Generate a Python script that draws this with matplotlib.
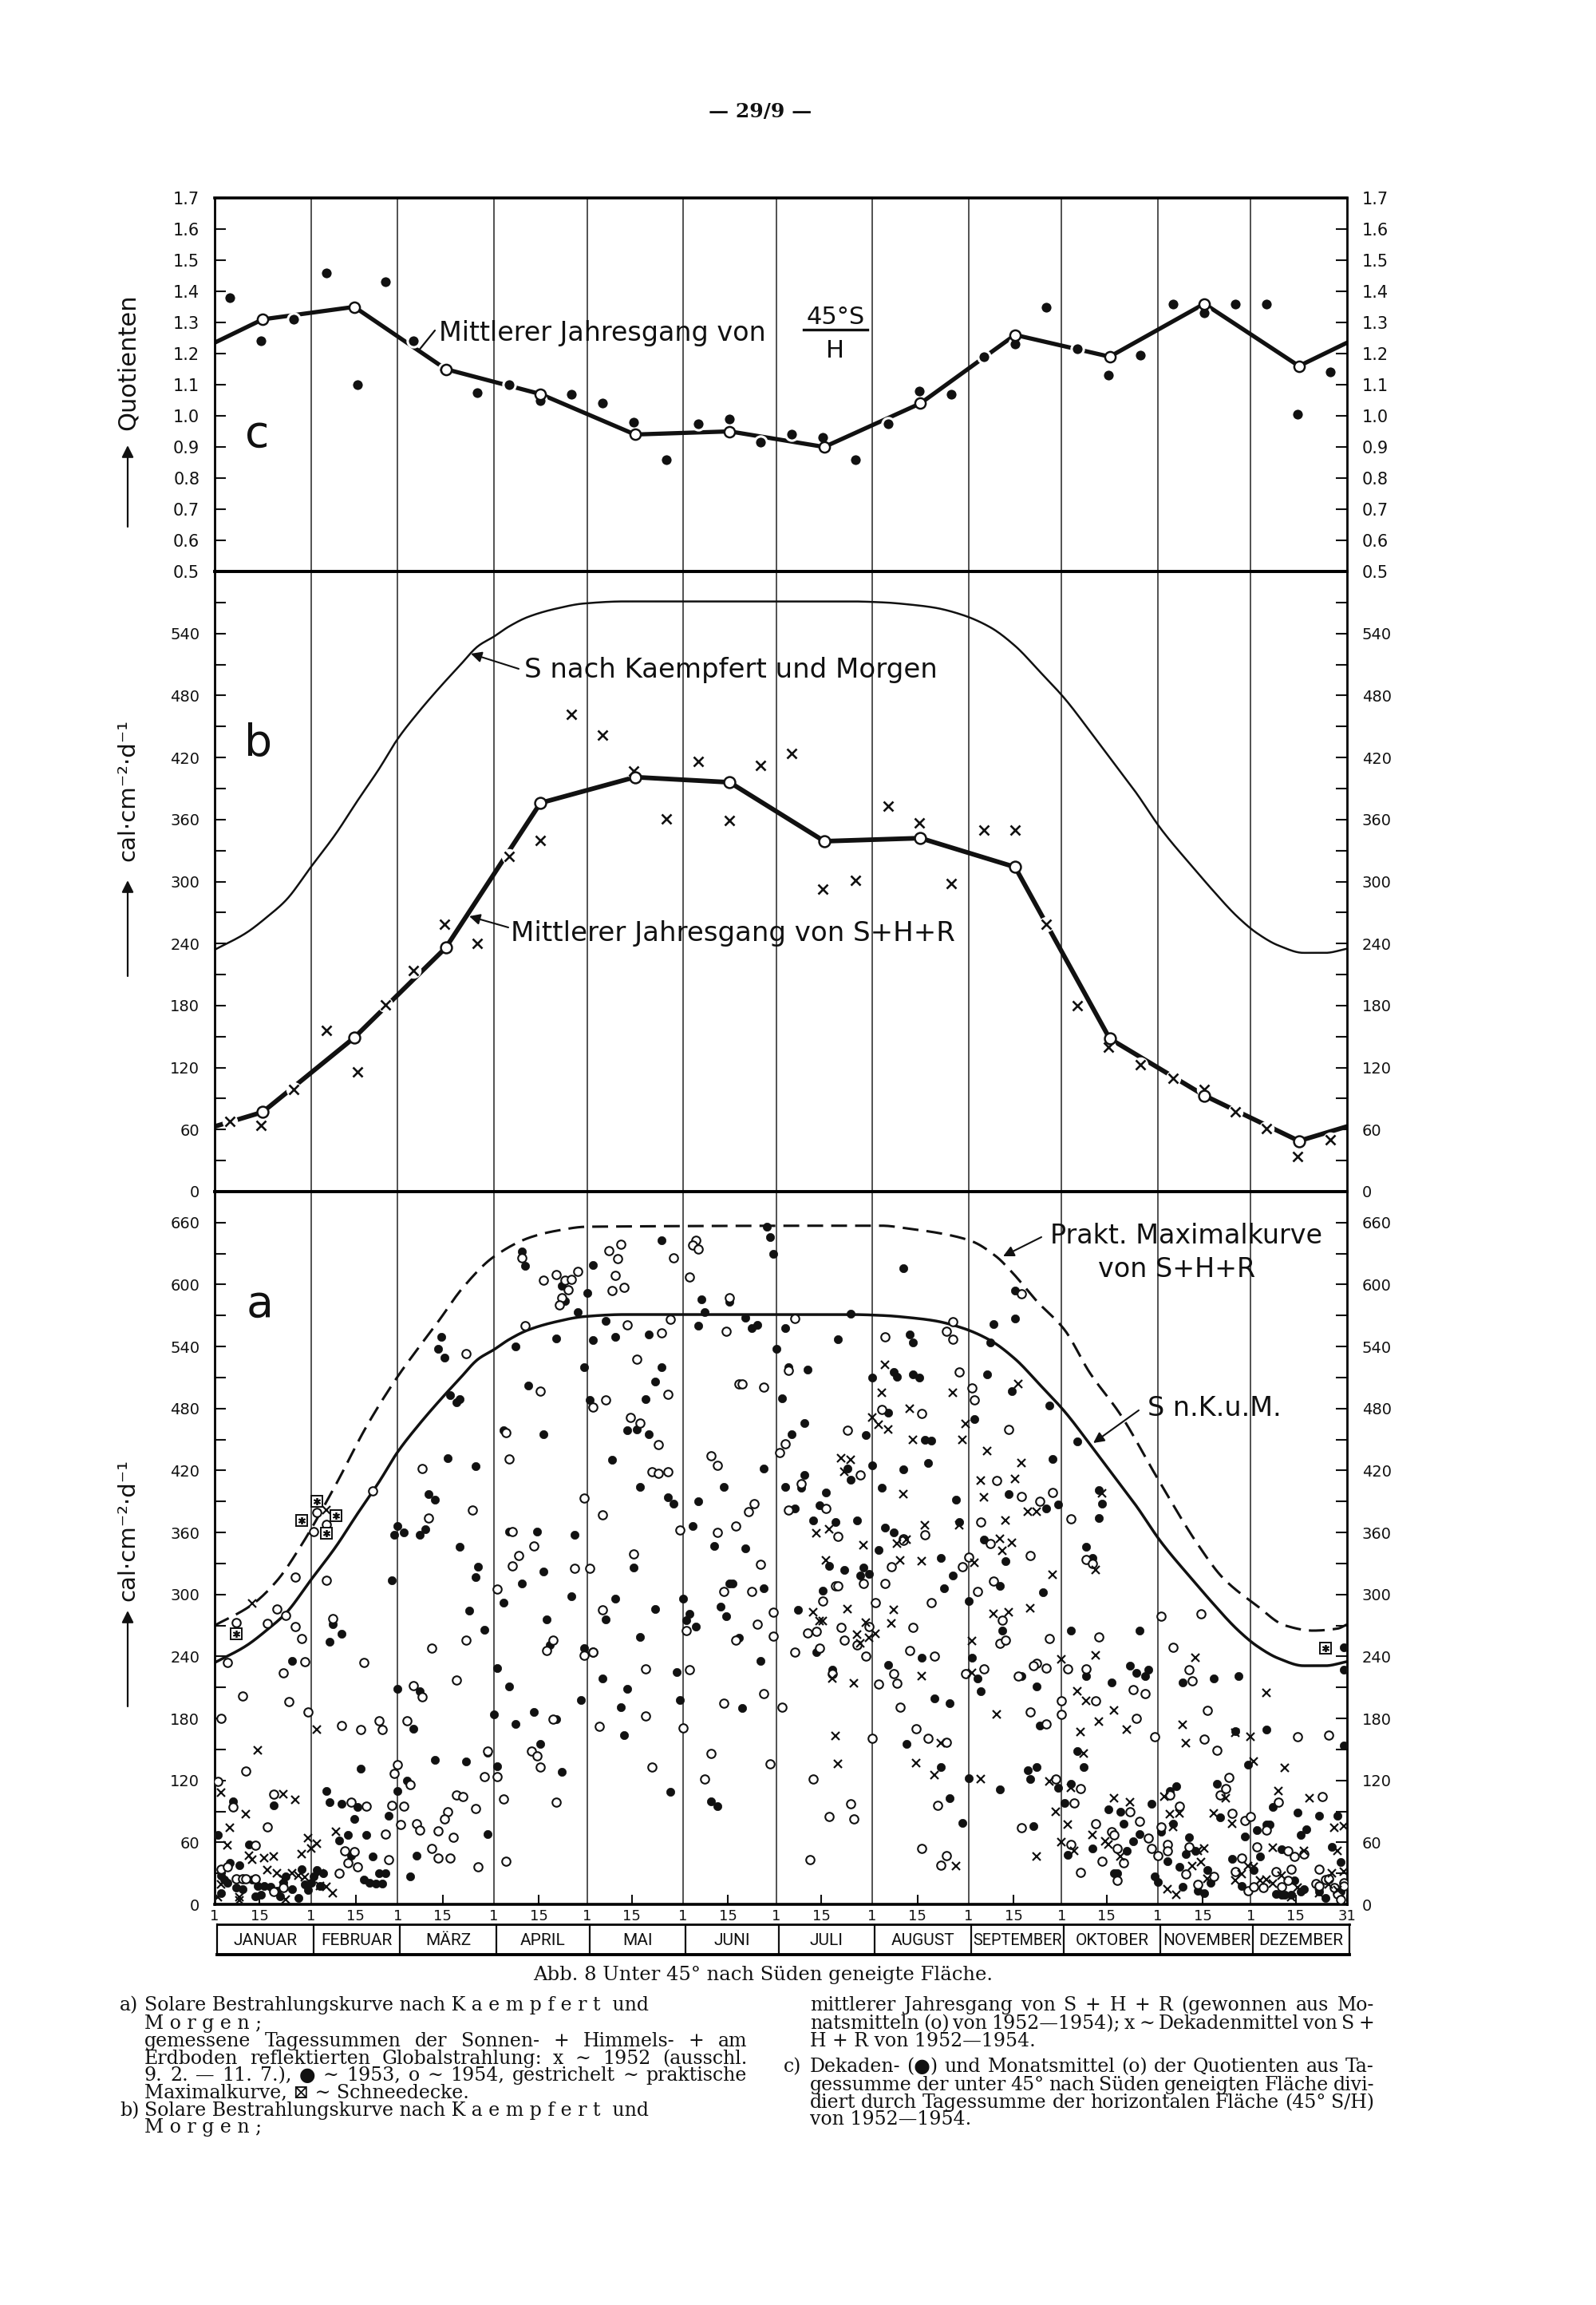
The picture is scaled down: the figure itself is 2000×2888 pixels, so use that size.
import numpy as np
import matplotlib
matplotlib.use('Agg')
import matplotlib.pyplot as plt
from matplotlib.patches import FancyArrowPatch
from matplotlib.lines import Line2D
from matplotlib.ticker import MultipleLocator

# ------------------------------------------------------------------ data
MONTHS = ['JANUAR', 'FEBRUAR', 'MÄRZ', 'APRIL', 'MAI', 'JUNI', 'JULI', 'AUGUST',
          'SEPTEMBER', 'OKTOBER', 'NOVEMBER', 'DEZEMBER']
MONTH_DAYS = [31, 28, 31, 30, 31, 30, 31, 31, 30, 31, 30, 31]

# panel c: quotient 45°S / H
Q_MONTH = [1.31, 1.35, 1.15, 1.07, 0.94, 0.95, 0.90, 1.04, 1.26, 1.19, 1.36, 1.16]
Q_DEKADE = [[1.38, 1.24, 1.31], [1.46, 1.10, 1.43], [1.24, 1.15, 1.075],
            [1.10, 1.05, 1.07], [1.04, 0.98, 0.86], [0.975, 0.99, 0.915],
            [0.94, 0.93, 0.86], [0.975, 1.08, 1.07], [1.19, 1.23, 1.35],
            [1.215, 1.13, 1.195], [1.36, 1.33, 1.36], [1.36, 1.005, 1.14]]
C_TICKS = [0.5, 0.6, 0.7, 0.8, 0.9, 1.0, 1.1, 1.2, 1.3, 1.4, 1.5, 1.6, 1.7]

# panel b: S+H+R
SHR_MONTH = [77, 149, 236, 376, 401, 396, 339, 342, 314, 148, 93, 49]
SHR_DEKADE = [[68, 64, 99], [156, 116, 181], [214, 259, 240], [324, 340, 462],
              [442, 407, 361], [416, 359, 412], [424, 293, 301], [373, 357, 298],
              [350, 350, 259], [180, 140, 123], [110, 99, 77], [61, 34, 50]]
B_TICKS = [0, 60, 120, 180, 240, 300, 360, 420, 480, 540]

# solar curve S (Kaempfert und Morgen)
S_DAY = [0, 10, 17, 23, 31, 39, 46, 53, 59, 66, 72, 79, 85, 90, 95, 101, 110, 119, 132,
         205, 216, 224, 232, 241, 250, 258, 266, 274, 282, 290, 297, 305, 317, 321,
         330, 336, 343, 351, 358, 365]
S_VAL = [234, 250, 266, 282, 314, 346, 378, 409, 438, 465, 486, 509, 528, 537, 547, 556,
         564, 569, 571, 571, 570, 568, 565, 558, 546, 528, 503, 477, 446, 414, 386, 351,
         308, 294, 265, 250, 238, 231, 231, 235]
# practical maximum curve of S+H+R
MAX_DAY = [0, 12, 20, 28, 39, 49, 59, 66, 72, 80, 90, 102, 110, 120, 215, 224, 235, 244,
           252, 257, 265, 274, 282, 292, 304, 317, 325, 336, 345, 354, 362, 365]
MAX_VAL = [270, 290, 313, 348, 406, 463, 511, 540, 564, 597, 627, 646, 652, 656, 657,
           654, 649, 642, 627, 612, 584, 556, 515, 474, 412, 348, 316, 289, 270, 265,
           267, 271]
A_TICKS = [0, 60, 120, 180, 240, 300, 360, 420, 480, 540, 600, 660]

# panel a: measured daily sums (day of year, cal cm-2 d-1)
G1952 = [(36,382),
 (216,522),(215,495),(238,495),(224,480),(212,471),(214,464),(217,460),(242,465),(225,450),
 (241,450),(249,439),(202,432),(205,430),(203,419),(247,410),(222,397),(248,394),(229,367),
 (240,367),(194,359),(198,363),(223,353),(220,349),(209,348),
 (259,504),(260,427),(258,412),(262,380),(265,380),(255,372),(253,354),(257,350),(286,398),
 (12,291),(14,149),(33,169),(22,107),(26,101),(2,108),(10,87),(5,74),(4,57),(11,47),(12,43),
 (16,45),(19,46),(17,33),(28,49),(30,64),(31,54),(33,59),(39,70),(2,19),(1,7),(8,7),(8,4),
 (20,30),(22,25),(23,5),(25,30),(27,28),(29,26),(34,30),(34,18),(36,17),(38,11),
 (193,283),(195,274),(196,274),(197,333),(204,286),(210,273),(207,261),(208,253),(211,258),
 (213,262),(221,333),(219,285),(218,272),(228,332),(245,331),(244,255),(206,214),(199,219),
 (228,221),(244,224),(234,156),(226,137),(232,125),(247,121),(200,163),(201,136),(239,37),
 (254,342),(270,319),(251,281),(256,283),(263,287),(284,324),(316,239),(284,241),(273,237),
 (278,206),(281,197),(290,188),(252,184),(285,177),(294,169),(279,167),(339,205),(312,174),
 (313,156),(329,166),(334,162),(335,138),(345,132),(269,119),(280,146),(276,113),(271,90),
 (275,77),(265,46),(273,60),(277,52),(290,103),(295,99),(283,67),(287,61),(288,58),(292,46),
 (306,104),(308,87),(311,88),(309,75),(307,15),(310,9),(315,37),(317,52),(319,54),(318,41),
 (320,25),(326,103),(322,88),(328,78),(343,110),(333,37),(335,36),(331,29),(329,23),(337,23),
 (339,24),(341,55),(344,28),(341,20),(347,7),(349,16),(351,52),(353,103),(361,74),(364,76),
 (362,52),(360,30),(364,32),(359,19),(356,11),(362,14)]

G1953 = [(99,632),(100,618),(112,599),(113,584),(117,573),(120,592),(122,619),(73,549),(72,538),
 (74,529),(97,540),(110,548),(122,546),(119,520),(101,502),(76,493),(78,486),(79,489),(121,488),
 (93,459),(106,455),(75,432),(84,424),(69,397),(71,392),(59,366),(61,360),(58,358),(68,363),
 (66,358),(95,361),(104,361),(116,358),(79,346),
 (144,643),(178,656),(179,646),(180,630),(157,586),(158,573),(166,583),(171,568),(173,558),
 (175,561),(156,560),(126,565),(129,549),(140,552),(184,558),(205,572),(222,616),(201,547),
 (224,552),(225,544),(181,538),(144,520),(142,506),(185,520),(191,518),(212,510),(219,515),
 (220,511),(225,513),(227,510),(249,513),(139,489),(183,490),(217,476),(245,470),(133,459),
 (136,460),(140,455),(190,466),(186,455),(210,454),(229,450),(231,449),(128,430),(177,422),
 (212,425),(230,427),(222,421),(204,422),(205,411),(190,416),(137,404),(164,404),(184,404),
 (189,403),(215,403),(146,394),(148,388),(156,390),(197,399),(195,386),(187,383),(239,392),
 (193,372),(200,370),(207,372),(216,365),(219,360),(240,370),(154,366),(161,347),(171,345),
 (248,353),
 (258,594),(251,562),(258,567),(250,544),(257,497),(269,483),(278,448),(270,431),(256,397),
 (268,383),(272,387),(285,374),(286,388),(285,401),(281,346),
 (25,236),(41,262),(37,254),(38,271),(57,314),(85,327),(84,317),(106,322),(99,311),(93,292),
 (115,298),(82,284),(107,276),(87,266),(108,251),(119,248),(91,229),(95,211),(59,209),(66,206),
 (118,198),(64,170),(90,184),(103,186),(97,175),(110,179),(105,155),(112,128),(88,147),(81,138),
 (71,140),(62,120),(59,110),(47,131),(91,134),(88,68),(70,54),(65,47),(63,27),(56,86),(55,30),
 (53,30),(54,20),(52,20),(50,21),(48,24),(51,46),(49,67),(46,94),(45,83),(41,97),(37,99),
 (36,110),(19,96),(6,100),(1,67),(11,58),(40,62),(43,67),(44,47),(5,40),(8,38),(2,28),(3,24),
 (4,21),(12,24),(2,11),(7,16),(9,15),(13,8),(15,9),(14,18),(16,18),(18,17),(20,13),(21,8),
 (22,21),(23,27),(28,34),(29,19),(25,15),(30,14),(27,6),(31,21),(33,33),(32,27),(35,30),(34,18),
 (135,326),(129,296),(126,276),(142,286),(137,259),(125,219),(133,209),(131,191),(132,164),
 (147,109),(177,306),(166,311),(167,311),(163,288),(165,279),(151,296),(153,281),(152,275),
 (155,269),(149,225),(150,198),(169,258),(176,236),(170,190),(160,100),(162,95),(188,285),
 (196,304),(198,328),(203,324),(194,244),(209,326),(208,318),(211,320),(214,343),(234,335),
 (238,318),(235,306),(243,294),(244,239),(228,239),(217,232),(199,227),(246,219),(247,206),
 (232,199),(237,195),(223,155),(234,133),(243,122),(237,103),(241,79),
 (255,332),(253,308),(267,302),(254,265),(283,335),(276,265),(298,265),(281,221),(260,221),
 (265,211),(295,231),(297,224),(300,221),(301,227),(289,215),(266,173),(312,215),(322,219),
 (330,221),(329,168),(339,169),(364,249),(364,227),(364,154),(333,135),(253,111),(262,130),
 (265,133),(263,121),(272,113),(278,148),(280,133),(276,117),(274,98),(264,76),(275,48),
 (288,92),(292,90),(302,97),(283,54),(293,78),(298,68),(296,61),(294,52),(290,30),(291,30),
 (305,70),(308,110),(310,114),(309,78),(307,42),(303,27),(304,22),(312,17),(311,36),(314,65),
 (313,49),(316,52),(317,13),(319,11),(320,33),(321,21),(323,117),(324,84),(332,66),(336,72),
 (339,77),(340,77),(341,94),(337,46),(328,44),(335,33),(331,18),(344,53),(342,10),(344,9),
 (345,9),(347,9),(348,23),(350,67),(352,73),(349,89),(356,86),(362,86),(360,56),(363,41),
 (351,15),(350,12),(358,6),(356,12),(363,12)]

G1954 = [(99,626),(106,604),(110,610),(113,604),(115,605),(117,613),(114,595),(112,587),(111,580),
 (100,560),(81,533),(105,497),(122,481),(94,457),(95,431),(67,422),(83,382),(69,374),(119,393),
 (96,361),(51,400),(103,347),(33,379),(36,368),(32,361),
 (131,639),(127,633),(130,625),(129,609),(128,594),(132,597),(148,626),(155,643),(154,638),
 (156,634),(153,607),(166,587),(147,566),(133,561),(144,553),(165,555),(187,567),(238,564),
 (236,555),(238,547),(216,549),(136,528),(185,517),(169,504),(170,504),(177,501),(240,515),
 (244,500),(245,488),(126,488),(146,494),(215,479),(228,475),(134,471),(137,466),(204,459),
 (184,446),(182,437),(143,445),(160,434),(162,425),(141,419),(143,417),(146,419),(208,416),
 (189,407),(174,388),(172,380),(185,382),(197,383),(125,377),(150,362),(168,366),(162,360),
 (201,356),(229,358),(247,370),(222,354),
 (260,591),(256,460),(252,410),(260,395),(266,390),(270,399),(276,373),(250,349),
 (26,317),(7,273),(20,286),(23,280),(17,272),(26,269),(28,257),(36,314),(38,277),(98,338),
 (96,328),(116,325),(121,325),(91,305),(81,256),(109,256),(107,246),(119,241),(122,244),(4,234),
 (29,235),(22,224),(70,248),(48,234),(78,217),(9,202),(24,196),(64,212),(67,201),(2,180),
 (30,186),(41,173),(47,169),(53,178),(54,169),(62,178),(109,179),(102,148),(104,144),(105,133),
 (88,148),(59,135),(58,127),(63,116),(10,129),(1,119),(91,124),(87,124),(93,102),(110,99),
 (78,106),(80,104),(84,93),(75,90),(74,83),(72,71),(77,65),(94,42),(85,36),(72,45),(76,45),
 (70,54),(60,77),(65,78),(66,72),(61,95),(57,96),(55,68),(56,43),(49,95),(44,99),(19,107),
 (6,94),(17,75),(13,57),(42,52),(45,51),(43,40),(46,36),(40,30),(2,34),(4,36),(7,25),(9,25),
 (10,25),(13,25),(19,12),(22,16),
 (135,339),(125,285),(122,244),(139,228),(139,182),(124,172),(141,133),(176,329),(173,303),
 (164,303),(152,265),(153,227),(151,171),(175,271),(168,256),(180,260),(180,283),(177,204),
 (164,195),(183,191),(160,146),(158,121),(179,136),(196,294),(191,263),(194,264),(187,244),
 (195,248),(200,308),(201,308),(202,268),(203,256),(209,311),(211,269),(207,251),(210,240),
 (213,292),(222,352),(218,327),(216,311),(225,268),(241,327),(243,336),(231,292),(246,303),
 (224,246),(232,240),(219,223),(220,214),(214,213),(199,223),(242,223),(248,228),(221,191),
 (226,170),(230,161),(236,157),(233,96),(212,161),(193,121),(205,97),(198,85),(206,83),(192,43),
 (228,54),(236,47),(234,38),
 (263,338),(251,313),(254,275),(253,253),(255,256),(269,257),(281,334),(283,330),(285,259),
 (305,279),(318,281),(309,249),(275,228),(281,228),(265,233),(264,231),(268,229),(259,221),
 (296,208),(300,204),(284,197),(273,197),(273,184),(263,186),(268,175),(297,180),(303,162),
 (314,227),(315,216),(320,188),(319,160),(323,149),(349,162),(359,164),(271,121),(279,112),
 (277,98),(260,74),(276,58),(279,31),(295,90),(298,80),(284,78),(289,70),(290,67),(301,64),
 (291,54),(293,40),(286,42),(291,23),(302,54),(304,47),(305,75),(308,106),(311,95),(307,58),
 (307,52),(313,29),(314,56),(317,19),(322,27),(324,106),(326,112),(327,123),(328,88),(332,81),
 (334,85),(336,56),(339,72),(343,99),(331,45),(329,32),(333,13),(335,17),(338,16),(346,52),
 (342,32),(346,23),(344,17),(348,46),(347,34),(351,49),(357,104),(356,34),(355,20),(356,18),
 (358,24),(359,25),(364,21),(364,18),(362,10),(363,5),(361,16)]

SNOW = [(33,390), (28,372), (39,376), (36,359), (7,262), (358,248)]

# ------------------------------------------------------------------ figure
W, H, DPI = 2000, 2888, 100
fig = plt.figure(figsize=(W / DPI, H / DPI), dpi=DPI)
fig.patch.set_facecolor('white')
renderer = fig.canvas.get_renderer()

def fx(x): return x / W
def fy(y): return 1 - y / H

SANS = 'DejaVu Sans'
MONTH_FONT = ['Roboto', 'DejaVu Sans']
SERIF = ['DejaVu Serif', 'DejaVu Sans']
INK = '#111111'

month_start = np.concatenate([[0], np.cumsum(MONTH_DAYS)[:-1]]).astype(float)
month_len = np.array(MONTH_DAYS, float)
month_mid = month_start + month_len / 2
dek_x = np.concatenate([[s + 5, s + 15, s + 20 + (l - 20) / 2] for s, l in zip(month_start, month_len)])

def wrap(xm, ym):
    xm = np.asarray(xm, float); ym = np.asarray(ym, float)
    return (np.concatenate([[xm[-1] - 365], xm, [xm[0] + 365]]),
            np.concatenate([[ym[-1]], ym, [ym[0]]]))

def pchip(x, y, n=800):
    """Monotone cubic drawing path through the read points."""
    x = np.asarray(x, float); y = np.asarray(y, float)
    h = np.diff(x); dl = np.diff(y) / h
    d = np.zeros_like(y)
    d[0], d[-1] = dl[0], dl[-1]
    for k in range(1, len(x) - 1):
        if dl[k - 1] * dl[k] > 0:
            w1 = 2 * h[k] + h[k - 1]; w2 = h[k] + 2 * h[k - 1]
            d[k] = (w1 + w2) / (w1 / dl[k - 1] + w2 / dl[k])
    xn = np.linspace(x[0], x[-1], n)
    i = np.clip(np.searchsorted(x, xn) - 1, 0, len(x) - 2)
    t = (xn - x[i]) / h[i]
    h00 = 2 * t**3 - 3 * t**2 + 1; h10 = t**3 - 2 * t**2 + t
    h01 = -2 * t**3 + 3 * t**2; h11 = t**3 - t**2
    yn = h00 * y[i] + h10 * h[i] * d[i] + h01 * y[i + 1] + h11 * h[i] * d[i + 1]
    return xn, yn

L, R = 269, 1688
def add_ax(top, bottom):
    return fig.add_axes([fx(L), fy(bottom), (R - L) / W, (bottom - top) / H])

ax_c = add_ax(248, 716)
ax_b = add_ax(716, 1493)
ax_a = add_ax(1493, 2386)

for ax, lsz in ((ax_c, 15), (ax_b, 14), (ax_a, 14)):
    ax.set_xlim(0, 365)
    ax.set_facecolor('none')
    for s in ('top', 'bottom'):
        ax.spines[s].set_linewidth(2.6)
    for s in ('left', 'right'):
        ax.spines[s].set_linewidth(2.0)
    for m in month_start[1:]:
        ax.axvline(m, color='#222222', lw=1.1, zorder=1)
    ax.tick_params(axis='y', which='both', direction='in', left=True, right=True,
                   labelleft=True, labelright=True, labelsize=lsz, pad=13.5,
                   length=10, width=1.5, colors=INK)

# ---------------- panel c
ax_c.set_ylim(0.5, 1.7)
ax_c.set_yticks(C_TICKS)
ax_c.set_yticklabels([f'{v:.1f}' for v in C_TICKS])
ax_c.set_xticks([])
xs, ys = wrap(month_mid, Q_MONTH)
ax_c.plot(xs, ys, color=INK, lw=3.8, zorder=2, solid_capstyle='butt')
ax_c.plot(dek_x, np.concatenate(Q_DEKADE), 'o', ms=11, mfc=INK, mec='white', mew=2.2, zorder=4)
ax_c.plot(month_mid, Q_MONTH, 'o', ms=9.5, mfc='white', mec=INK, mew=1.8, zorder=5)

# ---------------- panel b
ax_b.set_ylim(0, 600)
ax_b.set_yticks(B_TICKS)
ax_b.yaxis.set_minor_locator(MultipleLocator(30))
ax_b.set_xticks([])
sx, sy = pchip(S_DAY, S_VAL)
ax_b.plot(sx, sy, color=INK, lw=1.8, zorder=2)
xs, ys = wrap(month_mid, SHR_MONTH)
ax_b.plot(xs, ys, color=INK, lw=4.2, zorder=2, solid_capstyle='butt')
shr_d = np.concatenate(SHR_DEKADE)
ax_b.plot(dek_x, shr_d, 'o', ms=14, mfc='white', mec='none', zorder=3)
ax_b.plot(dek_x, shr_d, 'x', ms=8.5, color=INK, mew=1.9, zorder=4)
ax_b.plot(month_mid, SHR_MONTH, 'o', ms=10, mfc='white', mec=INK, mew=1.8, zorder=5)

# ---------------- panel a
ax_a.set_ylim(0, 690)
ax_a.set_yticks(A_TICKS)
ax_a.yaxis.set_minor_locator(MultipleLocator(30))
ax_a.plot(sx, sy, color=INK, lw=2.5, zorder=2)
mx, my = pchip(MAX_DAY, MAX_VAL)
ax_a.plot(mx, my, color=INK, lw=2.2, dashes=(6.5, 3.3), zorder=2)
g52 = np.array(G1952, float); g53 = np.array(G1953, float); g54 = np.array(G1954, float)
ax_a.plot(g53[:, 0], g53[:, 1], 'o', ms=7.4, mfc=INK, mec=INK, mew=0.5, zorder=4)
ax_a.plot(g54[:, 0], g54[:, 1], 'o', ms=7.6, mfc='white', mec=INK, mew=1.5, zorder=4)
ax_a.plot(g52[:, 0], g52[:, 1], 'x', ms=7.2, color=INK, mew=1.6, zorder=5)
sn = np.array(SNOW, float)
ax_a.plot(sn[:, 0], sn[:, 1], 's', ms=10, mfc='white', mec=INK, mew=1.4, zorder=6)
ax_a.plot(sn[:, 0], sn[:, 1], marker=(6, 2, 0), ls='none', ms=6.5, color=INK, mew=1.3, zorder=7)

day15 = month_start + 14.5
ax_a.set_xticks(list(day15) + [365])
ax_a.set_xticklabels(['15'] * 12 + ['31'])
ax_a.set_xticks(month_start, minor=True)
ax_a.set_xticklabels(['1'] * 12, minor=True)
ax_a.tick_params(axis='x', which='both', direction='in', bottom=True, top=False,
                 labelsize=13, pad=4, colors=INK)
ax_a.tick_params(axis='x', which='major', length=9, width=1.5)
ax_a.tick_params(axis='x', which='minor', length=0)

# ---------------- month box
ax_m = fig.add_axes([fx(L + 3), fy(2449), (R - L) / W, 38 / H])
ax_m.set_xlim(0, 365); ax_m.set_ylim(0, 1)
ax_m.set_xticks([]); ax_m.set_yticks([])
ax_m.spines['top'].set_linewidth(2.0)
ax_m.spines['bottom'].set_linewidth(2.8)
for s in ('left', 'right'):
    ax_m.spines[s].set_linewidth(1.6)
for m in month_start[1:]:
    ax_m.axvline(m, color=INK, lw=1.6)
for name, mid, ln in zip(MONTHS, month_mid, month_len):
    t = ax_m.text(mid, 0.47, name, ha='center', va='center', fontsize=15, family=MONTH_FONT, color=INK)
    wpx = t.get_window_extent(renderer).width
    avail = ln * (R - L) / 365 * 0.96
    if wpx > avail:
        t.set_fontsize(15 * avail / wpx)

# ---------------- text helpers
def text_px(x, y, s, **kw):
    kw.setdefault('color', INK)
    return fig.text(fx(x), fy(y), s, **kw)

def arrow_px(x0, y0, x1, y1, lw=1.5, ms=20, style='-|>'):
    fig.add_artist(FancyArrowPatch((fx(x0), fy(y0)), (fx(x1), fy(y1)), transform=fig.transFigure,
                                   arrowstyle=style, mutation_scale=ms, lw=lw, color=INK,
                                   shrinkA=0, shrinkB=0))

# panel letters
text_px(322, 545, 'c', fontsize=40, family=SANS, ha='center', va='center')
text_px(324, 932, 'b', fontsize=40, family=SANS, ha='center', va='center')
text_px(326, 1635, 'a', fontsize=40, family=SANS, ha='center', va='center')

# panel c label
text_px(550, 417, 'Mittlerer Jahresgang von', fontsize=24, family=SANS, ha='left', va='center')
text_px(1047, 397, '45°S', fontsize=22, family=SANS, ha='center', va='center')
text_px(1047, 440, 'H', fontsize=22, family=SANS, ha='center', va='center')
fig.add_artist(Line2D([fx(1007), fx(1087)], [fy(413), fy(413)], transform=fig.transFigure,
                      lw=2.4, color=INK))
arrow_px(545, 414, 524, 440, lw=1.6, style='-')

# panel b labels
text_px(657, 840, 'S nach Kaempfert und Morgen', fontsize=24.5, family=SANS, ha='left', va='center')
arrow_px(650, 838, 590, 819, lw=1.5, ms=20)
text_px(640, 1169, 'Mittlerer Jahresgang von S+H+R', fontsize=24.5, family=SANS, ha='left', va='center')
arrow_px(637, 1162, 588, 1148, lw=1.5, ms=20)

# panel a labels
text_px(1316, 1548, 'Prakt. Maximalkurve', fontsize=24, family=SANS, ha='left', va='center')
text_px(1376, 1590, 'von S+H+R', fontsize=24, family=SANS, ha='left', va='center')
arrow_px(1305, 1550, 1257, 1574, lw=1.5, ms=20)
text_px(1438, 1765, 'S n.K.u.M.', fontsize=24, family=SANS, ha='left', va='center')
arrow_px(1427, 1767, 1370, 1808, lw=1.5, ms=20)

# y-axis labels with arrows
text_px(160, 454, 'Quotienten', fontsize=22, family=SANS, rotation=90, ha='center', va='center')
arrow_px(160, 660, 160, 558, lw=1.6, ms=22)
text_px(160, 990, 'cal·cm⁻²·d⁻¹', fontsize=21, family=SANS, rotation=90, ha='center', va='center')
arrow_px(160, 1223, 160, 1103, lw=1.6, ms=22)
text_px(160, 1917, 'cal·cm⁻²·d⁻¹', fontsize=21, family=SANS, rotation=90, ha='center', va='center')
arrow_px(160, 2138, 160, 2018, lw=1.6, ms=22)

# page number
text_px(953, 140, '— 29/9 —', fontsize=18, family=SERIF, weight='bold', ha='center', va='center')

# caption
text_px(956, 2472, 'Abb. 8 Unter 45° nach Süden geneigte Fläche.', fontsize=17.5, family=SERIF,
        ha='center', va='center_baseline')

CAP_FS = 17
def cap_line(x0, x1, y, line, justify):
    kw = dict(fontsize=CAP_FS, family=SERIF, va='center_baseline', ha='left')
    if not justify:
        text_px(x0, y, line, **kw)
        return
    words = line.split()
    ts = [text_px(x0, y, w, **kw) for w in words]
    widths = [t.get_window_extent(renderer).width for t in ts]
    gap = (x1 - x0 - sum(widths)) / max(len(words) - 1, 1)
    gap = max(gap, 4)
    x = x0
    for t, w in zip(ts, widths):
        t.set_x(fx(x))
        x += w + gap

LX0, LX1 = 181, 936
RX0, RX1 = 1015, 1722
text_px(150, 2510, 'a)', fontsize=CAP_FS, family=SERIF, va='center_baseline', ha='left')
cap_line(LX0, LX1, 2510, 'Solare Bestrahlungskurve nach K a e m p f e r t  und', False)
cap_line(LX0, LX1, 2533, 'M o r g e n ;', False)
cap_line(LX0, LX1, 2555, 'gemessene Tagessummen der Sonnen- + Himmels- + am', True)
cap_line(LX0, LX1, 2577, 'Erdboden reflektierten Globalstrahlung: x ∼ 1952 (ausschl.', True)
cap_line(LX0, LX1, 2598, '9. 2. — 11. 7.), ● ∼ 1953, o ∼ 1954, gestrichelt ∼ praktische', True)
cap_line(LX0, LX1, 2620, 'Maximalkurve, ⊠ ∼ Schneedecke.', False)
text_px(150, 2642, 'b)', fontsize=CAP_FS, family=SERIF, va='center_baseline', ha='left')
cap_line(LX0, LX1, 2642, 'Solare Bestrahlungskurve nach K a e m p f e r t  und', False)
cap_line(LX0, LX1, 2663, 'M o r g e n ;', False)

cap_line(RX0, RX1, 2510, 'mittlerer Jahresgang von S + H + R (gewonnen aus Mo-', True)
cap_line(RX0, RX1, 2533, 'natsmitteln (o) von 1952—1954); x ∼ Dekadenmittel von S +', True)
cap_line(RX0, RX1, 2555, 'H + R von 1952—1954.', False)
text_px(982, 2587, 'c)', fontsize=CAP_FS, family=SERIF, va='center_baseline', ha='left')
cap_line(RX0, RX1, 2587, 'Dekaden- (●) und Monatsmittel (o) der Quotienten aus Ta-', True)
cap_line(RX0, RX1, 2610, 'gessumme der unter 45° nach Süden geneigten Fläche divi-', True)
cap_line(RX0, RX1, 2632, 'diert durch Tagessumme der horizontalen Fläche (45° S/H)', True)
cap_line(RX0, RX1, 2653, 'von 1952—1954.', False)

fig.savefig('out.png', dpi=DPI, facecolor='white')
